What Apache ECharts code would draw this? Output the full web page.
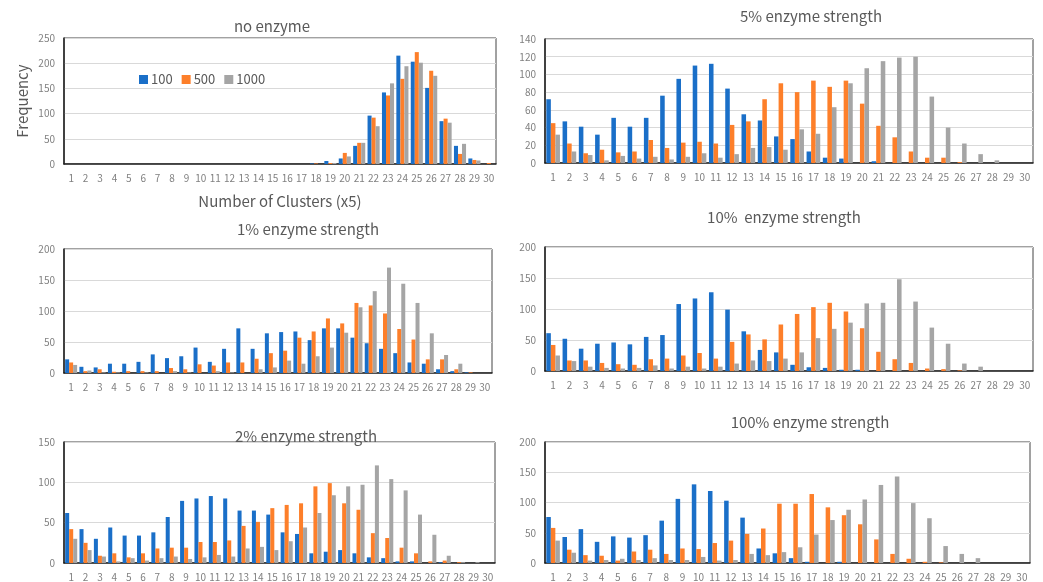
<!DOCTYPE html>
<html>
<head>
<meta charset="utf-8">
<script src="https://cdn.jsdelivr.net/npm/echarts@6.0.0/dist/echarts.min.js"></script>
<style>
    html, body { margin: 0; padding: 0; background: #fff; }
    #main { width: 1043px; height: 582px; }
</style>
</head>
<body>
<div id="main"></div>
<script>
// categories (x axis labels)
const categories = ['1','2','3','4','5','6','7','8','9','10','11','12','13','14','15',
    '16','17','18','19','20','21','22','23','24','25','26','27','28','29','30'];
const seriesNames = ['100', '500', '1000'];

// no enzyme
const none100  = [0,0,0,0,0,0,0,0,0,0,0,0,0,0,0,0,0,1,6,11,36,96,142,215,203,151,85,36,11,0];
const none500  = [0,0,0,0,0,0,0,0,0,0,0,0,0,0,0,0,0,1,2,22,42,92,136,169,222,185,90,20,8,2];
const none1000 = [0,0,0,0,0,0,0,0,0,0,0,0,0,0,0,0,0,0,2,15,42,75,160,194,201,175,82,40,7,0];

// 5% enzyme strength
const p5_100  = [72,47,41,32,51,41,51,76,95,110,112,84,55,48,30,27,13,6,5,0,2,0,0,0,0,0,0,0,0,0];
const p5_500  = [45,22,11,15,12,13,26,17,23,24,22,43,47,72,90,80,93,86,93,67,42,29,13,6,6,1,0,0,0,0];
const p5_1000 = [32,13,9,3,8,5,7,4,7,11,6,10,17,18,15,38,33,63,90,107,115,119,120,75,40,22,10,3,0,0];

// 1% enzyme strength
const p1_100  = [22,10,9,15,15,18,30,24,27,41,18,39,72,39,64,66,67,53,72,72,57,48,39,32,17,15,6,3,1,0];
const p1_500  = [17,3,6,2,3,3,3,8,6,14,12,17,17,23,32,36,57,67,88,80,113,109,96,71,54,22,22,6,1,0];
const p1_1000 = [13,4,1,1,0,1,0,3,1,0,3,1,0,6,9,20,15,27,41,65,106,132,170,144,113,64,29,15,0,0];

// 10% enzyme strength
const p10_100  = [61,52,36,44,46,43,55,58,108,117,127,99,64,34,30,10,6,5,2,2,0,0,0,0,0,0,0,0,0,0];
const p10_500  = [42,17,17,13,11,10,19,20,25,29,20,47,59,51,75,92,103,110,96,69,31,19,13,4,3,1,0,0,0,0];
const p10_1000 = [25,16,7,5,4,5,9,4,7,4,7,12,17,16,20,30,53,68,78,109,110,148,112,70,44,12,7,0,0,0];

// 2% enzyme strength
const p2_100  = [62,42,30,44,34,34,38,57,77,80,83,80,65,65,60,38,36,12,14,16,12,7,6,2,2,0,1,0,0,0];
const p2_500  = [42,25,9,12,7,12,18,19,19,26,26,28,46,51,68,72,74,95,99,74,66,37,31,19,12,2,3,1,0,0];
const p2_1000 = [30,16,8,2,6,3,6,8,5,7,10,8,18,20,16,27,44,62,84,95,97,121,104,90,60,35,9,1,1,0];

// 100% enzyme strength
const p100_100  = [76,43,56,35,44,42,46,70,106,130,119,103,75,24,16,8,2,0,2,0,0,0,0,0,0,0,0,0,0,0];
const p100_500  = [58,22,13,12,4,19,22,15,24,23,33,37,48,57,98,98,114,92,79,64,39,15,7,2,1,0,0,0,0,0];
const p100_1000 = [37,17,4,5,7,5,8,5,5,10,4,5,15,13,18,26,47,71,88,105,129,143,99,74,28,15,8,0,0,0];

(function () {
    const myChart = echarts.init(document.getElementById('main'));
    const font = "'Noto Sans CJK JP', 'Noto Sans', sans-serif";
    const colors = ['#1a6fc8', '#fd7f2a', '#a5a5a5'];

    // panel layout
    const panels = [
        { title: 'no enzyme',            tx: 267, ty: 14,  grid: { left: 64,  top: 38,  width: 432, height: 126 }, max: 250, step: 50, data: [none100, none500, none1000] },
        { title: '5% enzyme strength',   tx: 806, ty: 4,   grid: { left: 545, top: 39,  width: 488, height: 124 }, max: 140, step: 20, data: [p5_100, p5_500, p5_1000] },
        { title: '1% enzyme strength',   tx: 303, ty: 217, grid: { left: 64,  top: 249, width: 428, height: 124 }, max: 200, step: 50, data: [p1_100, p1_500, p1_1000] },
        { title: '10%  enzyme strength', tx: 779, ty: 205, grid: { left: 545, top: 247, width: 488, height: 124 }, max: 200, step: 50, data: [p10_100, p10_500, p10_1000] },
        { title: '2% enzyme strength',   tx: 301, ty: 424, grid: { left: 64,  top: 442, width: 431, height: 121 }, max: 150, step: 50, data: [p2_100, p2_500, p2_1000] },
        { title: '100% enzyme strength', tx: 805, ty: 410, grid: { left: 545, top: 442, width: 485, height: 121 }, max: 200, step: 50, data: [p100_100, p100_500, p100_1000] }
    ];

    const option = {
        animation: false,
        textStyle: { fontFamily: font },
        title: panels.map(p => ({
            text: p.title,
            left: p.tx,
            top: p.ty,
            textAlign: 'center',
            textStyle: { fontFamily: font, fontSize: 15, fontWeight: 'normal', color: '#595959' }
        })),
        legend: {
            data: seriesNames,
            left: 134,
            top: 68,
            icon: 'rect',
            itemWidth: 9,
            itemHeight: 9,
            itemGap: 9,
            textStyle: { fontFamily: font, fontSize: 13, color: '#595959', padding: [0, 0, 0, -2] }
        },
        grid: panels.map(p => Object.assign({ show: true, borderColor: '#444', borderWidth: 1 }, p.grid)),
        xAxis: panels.map((p, i) => ({
            type: 'category',
            gridIndex: i,
            data: categories,
            axisTick: { show: false },
            axisLine: { lineStyle: { color: '#222', width: 1.5 } },
            axisLabel: { interval: 0, fontSize: 10, color: '#808080', margin: 9 },
            name: i === 0 ? 'Number of Clusters (x5)' : '',
            nameLocation: 'middle',
            nameGap: 30,
            nameTextStyle: { fontSize: 15, color: '#595959' }
        })),
        yAxis: panels.map((p, i) => ({
            type: 'value',
            gridIndex: i,
            min: 0,
            max: p.max,
            interval: p.step,
            axisLine: { show: true, lineStyle: { color: '#222', width: 1.5 } },
            axisTick: { show: false },
            axisLabel: { fontSize: 10, color: '#808080', margin: 9 },
            splitLine: { lineStyle: { color: '#d9d9d9', width: 1 } },
            name: i === 0 ? 'Frequency' : '',
            nameLocation: 'middle',
            nameGap: 34,
            nameTextStyle: { fontSize: 15, color: '#595959' }
        })),
        series: []
    };

    panels.forEach((p, i) => {
        p.data.forEach((d, k) => {
            option.series.push({
                name: seriesNames[k],
                type: 'bar',
                xAxisIndex: i,
                yAxisIndex: i,
                data: d,
                barGap: '0%',
                barCategoryGap: '16%',
                itemStyle: { color: colors[k] }
            });
        });
    });

    myChart.setOption(option);
})();
</script>
</body>
</html>
